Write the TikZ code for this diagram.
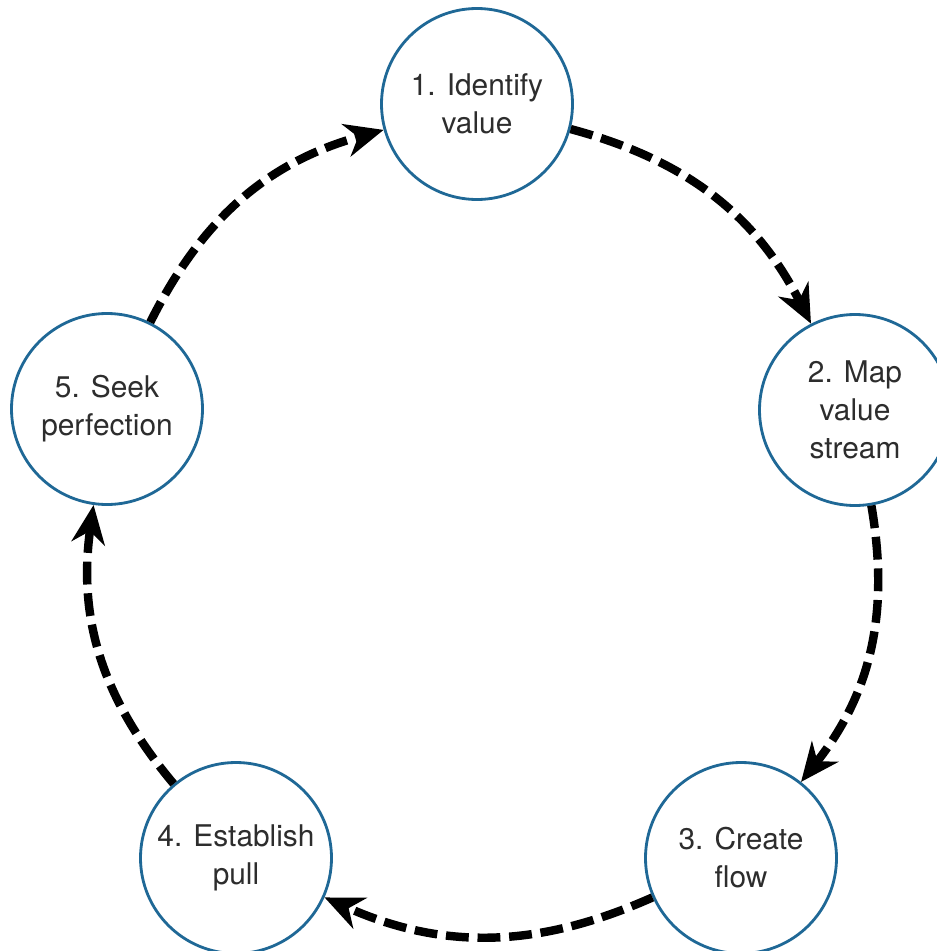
\documentclass[tikz,border=0pt]{standalone}
\usepackage{fontspec}
\setmainfont{TeX Gyre Heros}
\usetikzlibrary{arrows.meta}

\definecolor{bleucercle}{RGB}{31,104,150}
\definecolor{gristexte}{RGB}{45,45,45}

\begin{document}
\begin{tikzpicture}[
    etape/.style={circle, draw=bleucercle, line width=1.6pt, fill=white,
        minimum size=3.82cm, inner sep=0pt, align=center, text=gristexte,
        font=\fontsize{17}{21.6}\selectfont},
    fleche/.style={line width=4.8pt, dash pattern=on 13pt off 5pt,
        -{Stealth[length=22pt, width=19pt, inset=7pt]}}
]
    % Cadre de la figure
    \clip (0,0) rectangle (18.74,-19.02);
    \useasboundingbox (0,0) rectangle (18.74,-19.02);

    % Les cinq étapes
    \node[etape] (identifier) at (9.54,-2.08) {1. Identify\\value};
    \node[etape] (carte) at (17.10,-8.20) {2. Map\\value\\stream};
    \node[etape] (flux) at (14.82,-17.16) {3. Create\\flow};
    \node[etape] (tirer) at (4.72,-17.16) {4. Establish\\pull};
    \node[etape] (perfection) at (2.14,-8.18) {5. Seek\\perfection};

    % Flèches pointillées qui ferment le cycle
    \draw[fleche] (identifier) to[bend left=24] (carte);
    \draw[fleche] (carte) to[bend left=24] (flux);
    \draw[fleche] (flux) to[bend left=24] (tirer);
    \draw[fleche] (tirer) to[bend left=24] (perfection);
    \draw[fleche] (perfection) to[bend left=24] (identifier);
\end{tikzpicture}
\end{document}
